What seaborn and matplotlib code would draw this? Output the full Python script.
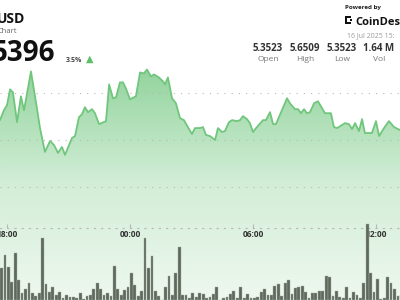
import numpy as np
import matplotlib
matplotlib.use("Agg")
import matplotlib.pyplot as plt
import seaborn as sns
from matplotlib.colors import LinearSegmentedColormap
from matplotlib.patches import PathPatch, Rectangle

# ---------------- data ----------------
# price line: hours since 18:00 and price
line_hours = [-0.34, -0.15, 0.00, 0.15, 0.29, 0.49, 0.68, 0.83, 1.17, 1.46, 1.61, 1.85,
              2.10, 2.29, 2.49, 2.68, 2.83, 3.17, 3.32, 3.51, 3.66, 3.80, 3.95, 4.15,
              4.29, 4.49, 4.83, 4.98, 5.17, 5.32, 5.51, 5.66, 5.80, 6.00, 6.29, 6.49,
              6.68, 6.83, 7.02, 7.17, 7.41, 7.61, 7.71, 7.85, 8.05, 8.24, 8.44, 8.63,
              9.02, 9.17, 9.41, 9.56, 9.71, 9.90, 10.15, 10.29, 10.49, 10.63, 10.83, 10.98,
              11.22, 11.37, 11.51, 11.71, 11.85, 12.00, 12.15, 12.49, 12.63, 12.83, 12.98, 13.12,
              13.66, 13.80, 14.05, 14.20, 14.34, 14.49, 14.63, 14.78, 14.98, 15.17, 15.51, 15.80,
              15.95, 16.10, 16.49, 16.68, 16.83, 16.98, 17.17, 17.32, 17.46, 17.80, 18.00, 18.15,
              18.39, 18.63, 18.88, 19.17]
line_price = [5.5426, 5.5638, 5.5745, 5.6085, 5.6021, 5.5383, 5.5936, 5.5638, 5.6468, 5.5681, 5.5255, 5.4745,
              5.4979, 5.4894, 5.4723, 5.4851, 5.4681, 5.5043, 5.5085, 5.5489, 5.5553, 5.5702, 5.5596, 5.5660,
              5.5574, 5.5340, 5.5404, 5.6191, 5.5894, 5.5915, 5.6234, 5.6234, 5.6106, 5.5872, 5.5936, 5.6447,
              5.6426, 5.6509, 5.6362, 5.6404, 5.6340, 5.6255, 5.6191, 5.6340, 5.5894, 5.5787, 5.5468, 5.5426,
              5.5128, 5.5255, 5.5255, 5.5277, 5.5106, 5.5085, 5.5000, 5.5255, 5.5170, 5.5191, 5.5383, 5.5426,
              5.5404, 5.5426, 5.5511, 5.5447, 5.5362, 5.5170, 5.5255, 5.5426, 5.5426, 5.5596, 5.5340, 5.5340,
              5.5894, 5.5787, 5.5660, 5.5660, 5.5574, 5.5660, 5.5574, 5.5596, 5.5787, 5.5830, 5.5574, 5.5574,
              5.5277, 5.5255, 5.5362, 5.5340, 5.5234, 5.5362, 5.5191, 5.5447, 5.5149, 5.5149, 5.5404, 5.5085,
              5.5255, 5.5404, 5.5277, 5.5213]

# volume per 10-minute bar, first bar starts 17:40
bar_start_hour = -1 / 3
bar_step_hours = 1 / 6
volumes = [32, 45, 33, 18, 47, 20, 7, 11, 17, 7, 4, 7, 62, 16, 8, 13, 5, 8, 2, 5,
           3, 3, 2, 7, 1, 4, 5, 11, 17, 11, 5, 7, 4, 34, 11, 5, 10, 13, 27, 15,
           4, 9, 62, 32, 44, 9, 4, 0.5, 13, 24, 5, 27, 53, 5, 5, 2, 7, 3, 7,
           6, 2, 3, 6, 13, 0.5, 2, 3, 6, 9, 2, 13, 2, 6, 2, 2, 3, 8, 11, 5,
           5, 14, 16, 4, 17, 20, 6, 12, 13, 14, 8, 2, 7, 7, 9, 9, 24, 23, 4, 9,
           3, 2, 13, 2, 8, 5, 2, 17, 76, 27, 8, 21, 1, 2, 23, 17, 11, 4, 5]

tick_hours = [0, 6, 12, 18]
tick_labels = ["18:00", "00:00", "06:00", "12:00"]
grid_prices = [5.4, 5.5, 5.6]

stat_values = ["5.3523", "5.6509", "5.3523", "1.64 M"]
stat_names = ["Open", "High", "Low", "Vol"]

# ---------------- style ----------------
sns.set_style("white")
plt.rcParams["font.family"] = ["Open Sans", "DejaVu Sans"]

W, H = 400, 300
fig = plt.figure(figsize=(4, 3), dpi=100)
fig.patch.set_facecolor("white")

def fx(px):
    return px / W

def fy(py):
    return 1 - py / H

# px <-> data mapping
x_lo, x_hi = (0 - 7) / 20.5, (400 - 7) / 20.5
ppx = 467.0
y_hi = 5.5 + 140 / ppx
y_lo = 5.5 - 160 / ppx

ax = fig.add_axes([0, 0, 1, 1])
ax.set_xlim(x_lo, x_hi)
ax.set_ylim(y_lo, y_hi)
ax.axis("off")

# gradient fill under line
grad = np.linspace(0, 1, 256).reshape(-1, 1)
cmap = LinearSegmentedColormap.from_list("g", ["#eef8ef", "#d3eed7", "#93d49e"])
top = max(line_price)
im = ax.imshow(grad, extent=[x_lo, x_hi, y_lo, top], origin="lower", aspect="auto",
               cmap=cmap, zorder=1, interpolation="bilinear")
poly = ax.fill_between(line_hours, line_price, y_lo, color="none", lw=0)
im.set_clip_path(PathPatch(poly.get_paths()[0], transform=ax.transData))

for gp in grid_prices:
    ax.axhline(gp, color="#b8b8b8", lw=0.8, dashes=(1, 5.5), zorder=2)

sns.lineplot(x=line_hours, y=line_price, ax=ax, color="#70c67c", linewidth=1.3, zorder=3)
ax.set_xlim(x_lo, x_hi)
ax.set_ylim(y_lo, y_hi)

# volume axes
vol_top_px = 227.5
axv = fig.add_axes([0, 0, 1, (H - vol_top_px) / H])
axv.set_facecolor("none")
axv.set_xlim(x_lo, x_hi)
axv.set_ylim(0, H - vol_top_px)
bar_x = bar_start_hour + bar_step_hours * np.arange(len(volumes))
axv.bar(bar_x, volumes, width=bar_step_hours * 0.82, align="edge", color="#5f695c",
        edgecolor="#a3aba0", linewidth=0.3, clip_on=False, zorder=3)
for s in ["left", "right", "bottom"]:
    axv.spines[s].set_visible(False)
axv.spines["top"].set_color("#b8b8b8")
axv.spines["top"].set_linewidth(0.8)
axv.spines["top"].set_linestyle((0, (1, 5.5)))
axv.set_yticks([])
axv.set_xticks(tick_hours)
axv.set_xticklabels(tick_labels)
axv.xaxis.set_ticks_position("top")
axv.tick_params(axis="x", top=True, bottom=False, labeltop=True, labelbottom=False,
                direction="out", length=3, width=0.8, color="#b8b8b8", pad=-11,
                labelsize=6, labelcolor="#333333")
for lab in axv.get_xticklabels():
    lab.set_fontweight("bold")

# ---------------- header text ----------------
fig.text(fx(25), fy(23), "USD", ha="right", va="baseline", fontsize=10, fontweight="bold", color="#111111")
fig.text(fx(17), fy(33), "Chart", ha="right", va="baseline", fontsize=5.5, color="#666666")
fig.text(fx(55), fy(61), "5396", ha="right", va="baseline", fontsize=20, fontweight="bold", color="#111111")
fig.text(fx(66), fy(62), "3.5%", ha="left", va="baseline", fontsize=5, fontweight="bold", color="#444444")
fig.text(fx(86), fy(62), "▲", ha="left", va="baseline", fontsize=7, color="#5cbf6a",
         family=["DejaVu Sans"])

fig.text(fx(345), fy(9.5), "Powered by", ha="left", va="baseline", fontsize=4.5, fontweight="bold", color="#222222")
fig.text(fx(355), fy(25), "CoinDesk", ha="left", va="baseline", fontsize=8, fontweight="bold", color="#111111")
# logo mark
for (lx, ly, lw_, lh) in [(345, 16, 2, 8), (347, 16, 4, 2), (347, 22, 4, 2), (350, 19, 2, 2)]:
    fig.patches.append(Rectangle((fx(lx), fy(ly + lh)), lw_ / W, lh / H, transform=fig.transFigure,
                                 color="#111111", lw=0))
fig.text(fx(347), fy(37), "16 Jul 2025 15:", ha="left", va="baseline", fontsize=5, color="#9a9a9a")

centers = [268, 305, 342, 379]
for cx, v, n in zip(centers, stat_values, stat_names):
    fig.text(fx(cx), fy(51), v, ha="center", va="baseline", fontsize=7, fontweight="bold", color="#333333")
    fig.text(fx(cx), fy(61), n, ha="center", va="baseline", fontsize=6, color="#777777")

fig.savefig("out.png", dpi=100)
